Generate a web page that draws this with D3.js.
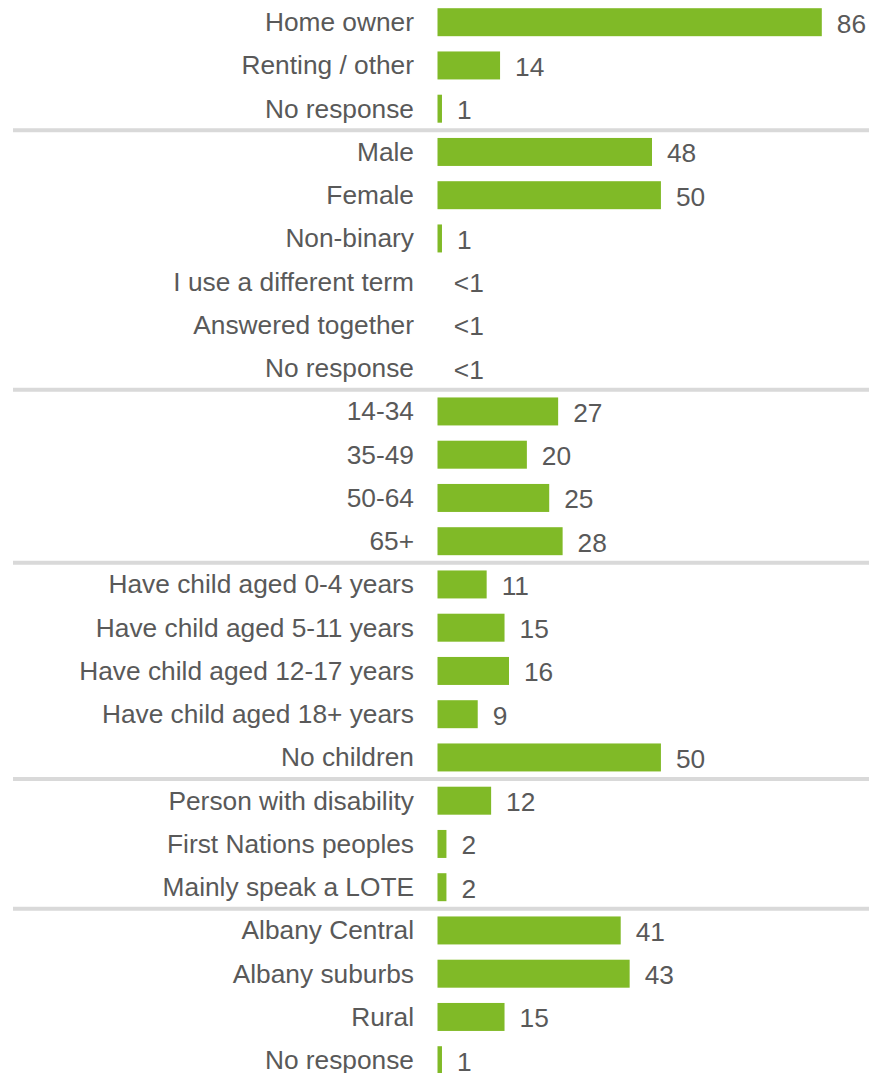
<!DOCTYPE html>
<html>
<head>
<meta charset="utf-8">
<script src="https://cdn.jsdelivr.net/npm/d3@7"></script>
<style>
  html, body { margin: 0; padding: 0; background: #fff; }
  svg { display: block; }
</style>
</head>
<body>
<svg id="chart" width="869" height="1073"></svg>
<script>
const categories = [
  "Home owner", "Renting / other", "No response",
  "Male", "Female", "Non-binary", "I use a different term", "Answered together", "No response",
  "14-34", "35-49", "50-64", "65+",
  "Have child aged 0-4 years", "Have child aged 5-11 years", "Have child aged 12-17 years", "Have child aged 18+ years", "No children",
  "Person with disability", "First Nations peoples", "Mainly speak a LOTE",
  "Albany Central", "Albany suburbs", "Rural", "No response"
];
const values = [
  86, 14, 1,
  48, 50, 1, 0.3, 0.3, 0.3,
  27, 20, 25, 28,
  11, 15, 16, 9, 50,
  12, 2, 2,
  41, 43, 15, 1
];
const valueLabels = [
  "86", "14", "1",
  "48", "50", "1", "<1", "<1", "<1",
  "27", "20", "25", "28",
  "11", "15", "16", "9", "50",
  "12", "2", "2",
  "41", "43", "15", "1"
];
// index of last row in each group (separator drawn after these rows)
const groupEnds = [2, 8, 12, 17, 20];

const svg = d3.select("#chart");
const font = "'Liberation Sans', Arial, sans-serif";
const textColor = "#595959";
const barColor = "#80BA27";
const fontSize = 26.3;

const idx = d3.range(categories.length);
const step = 43.25;
const y0 = 22.2 - step / 2;
const y = d3.scaleBand()
  .domain(idx)
  .range([y0, y0 + step * categories.length])
  .paddingInner(0.353)
  .paddingOuter(0.1765);

const x = d3.scaleLinear().domain([0, 86]).range([437.5, 821.8]);

// separators
svg.append("g").selectAll("line")
  .data(groupEnds)
  .join("line")
  .attr("x1", 13)
  .attr("x2", 869)
  .attr("y1", d => y(d) + y.bandwidth() / 2 + y.step() / 2)
  .attr("y2", d => y(d) + y.bandwidth() / 2 + y.step() / 2)
  .attr("stroke", "#d9d9d9")
  .attr("stroke-width", 4);

// bars
svg.append("g").selectAll("rect")
  .data(idx.filter(i => values[i] >= 0.5))
  .join("rect")
  .attr("x", x(0))
  .attr("y", i => y(i))
  .attr("width", i => x(values[i]) - x(0))
  .attr("height", y.bandwidth())
  .attr("fill", barColor);

// category labels
svg.append("g").selectAll("text")
  .data(idx)
  .join("text")
  .attr("x", 414)
  .attr("y", i => y(i) + y.bandwidth() / 2)
  .attr("dy", "0.34em")
  .attr("text-anchor", "end")
  .attr("font-family", font)
  .attr("font-size", fontSize)
  .attr("fill", textColor)
  .text(i => categories[i]);

// value labels
svg.append("g").selectAll("text")
  .data(idx)
  .join("text")
  .attr("x", i => x(values[i]) + 15)
  .attr("y", i => y(i) + y.bandwidth() / 2 + 1.5)
  .attr("dy", "0.34em")
  .attr("font-family", font)
  .attr("font-size", fontSize)
  .attr("fill", textColor)
  .text(i => valueLabels[i]);
</script>
</body>
</html>
